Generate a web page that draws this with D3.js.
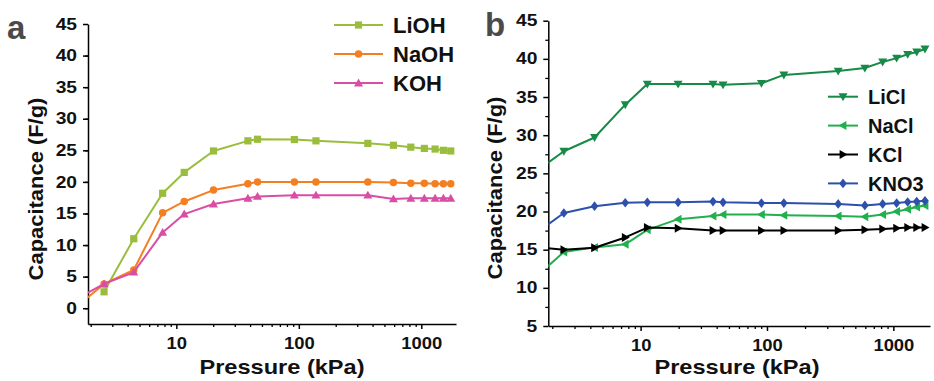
<!DOCTYPE html>
<html>
<head>
<meta charset="utf-8">
<script src="https://cdn.jsdelivr.net/npm/d3@7"></script>
<style>
  body { margin: 0; background: #fff; }
  text { font-family: "Liberation Sans", Arial, sans-serif; font-weight: bold; }
</style>
</head>
<body>
<div id="chart"></div>
<script>
// capacitance vs pressure, two panels (hydroxides / salts)

// panel a data, first column sits left of the axis and only feeds the line
var pressureA = [1.5, 2.57, 4.49, 7.73, 11.6, 20.1, 38.4, 46, 92, 138, 366, 592, 821, 1059, 1296, 1515, 1740]
var LiOH = [null, 2.6, 11.0, 18.2, 21.5, 24.9, 26.5, 26.75, 26.7, 26.5, 26.1, 25.8, 25.5, 25.3, 25.2, 25.0, 24.9]
var NaOH = [0.1, 3.85, 6.06, 15.1, 16.9, 18.7, 19.7, 20.0, 20.0, 20.0, 20.0, 19.9, 19.8, 19.8, 19.7, 19.7, 19.7]
var KOH = [1.4, 3.85, 5.7, 12.0, 14.9, 16.5, 17.4, 17.7, 17.9, 17.9, 17.9, 17.3, 17.4, 17.4, 17.4, 17.4, 17.4]

// panel b data
var pressureB = [1.5, 2.47, 4.32, 7.56, 11.3, 19.8, 37.4, 44.9, 90.4, 136, 366, 595, 823, 1062, 1298, 1530, 1780]
var LiCl = [25.3, 27.9, 29.7, 34.0, 36.7, 36.7, 36.7, 36.6, 36.8, 37.9, 38.4, 38.8, 39.6, 40.1, 40.6, 40.9, 41.3]
var NaCl = [11.5, 14.7, 15.3, 15.7, 17.6, 19.0, 19.4, 19.6, 19.6, 19.5, 19.4, 19.3, 19.6, 20.0, 20.3, 20.6, 20.8]
var KCl = [15.3, 15.0, 15.25, 16.6, 17.9, 17.8, 17.5, 17.5, 17.5, 17.5, 17.5, 17.6, 17.7, 17.8, 17.9, 17.9, 17.9]
var KNO3 = [17.2, 19.8, 20.7, 21.15, 21.2, 21.2, 21.3, 21.2, 21.1, 21.1, 21.0, 20.8, 21.0, 21.1, 21.25, 21.3, 21.4]

var xTicks = [10, 100, 1000]
var yTicksA = [0, 5, 10, 15, 20, 25, 30, 35, 40, 45]
var yTicksB = [5, 10, 15, 20, 25, 30, 35, 40, 45]

var width = 934
var height = 381

var svg = d3.select("#chart")
    .append("svg")
    .attr("width", width)
    .attr("height", height)

var panels = [
    {
        id: "a", letter: "a",
        left: 88, right: 456, top: 24, bottom: 324,
        xDomain: [1.9, 1920], yDomain: [-2.5, 45], yTicks: yTicksA,
        pressure: pressureA,
        series: [
            { name: "LiOH", values: LiOH, color: "#9bbd3d", shape: "square" },
            { name: "NaOH", values: NaOH, color: "#f47f20", shape: "circle" },
            { name: "KOH", values: KOH, color: "#d94ea5", shape: "tri-up" }
        ],
        legend: { x: 334, y: 25, step: 29, font: 22 },
        letterPos: [7, 39],
        xTitle: 282, yTitle: 189, yTitleX: 43
    },
    {
        id: "b", letter: "b",
        left: 548.3, right: 930, top: 20.7, bottom: 326,
        xDomain: [1.86, 1950], yDomain: [5, 45], yTicks: yTicksB,
        pressure: pressureB,
        series: [
            { name: "LiCl", values: LiCl, color: "#178a47", shape: "tri-down" },
            { name: "NaCl", values: NaCl, color: "#22b04f", shape: "tri-left" },
            { name: "KCl", values: KCl, color: "#000000", shape: "tri-right" },
            { name: "KNO3", values: KNO3, color: "#2d50ac", shape: "diamond" }
        ],
        legend: { x: 828, y: 96.7, step: 28.9, font: 20 },
        letterPos: [485, 36],
        xTitle: 737, yTitle: 188, yTitleX: 502
    }
]

// the original labels are a bit wider than Arial, stretch them
function stretch(sel, k) {
    sel.each(function () {
        var len = this.getComputedTextLength()
        d3.select(this).attr("textLength", len * k).attr("lengthAdjust", "spacingAndGlyphs")
    })
}

function symbolPath(shape) {
    var s = 3.8
    if (shape == "square") return d3.symbol(d3.symbolSquare, 52)()
    if (shape == "circle") return d3.symbol(d3.symbolCircle, 44)()
    if (shape == "diamond") return `M0,${-s - 1}L${s},0L0,${s + 1}L${-s},0Z`
    var t = 4.5
    if (shape == "tri-up") return `M0,${-t}L${t},${t * 0.75}L${-t},${t * 0.75}Z`
    if (shape == "tri-down") return `M0,${t}L${t},${-t * 0.75}L${-t},${-t * 0.75}Z`
    if (shape == "tri-left") return `M${-t},0L${t * 0.75},${t}L${t * 0.75},${-t}Z`
    if (shape == "tri-right") return `M${t},0L${-t * 0.75},${t}L${-t * 0.75},${-t}Z`
}

panels.forEach(function (p) {
    var x = d3.scaleLog().domain(p.xDomain).range([p.left, p.right])
    var y = d3.scaleLinear().domain(p.yDomain).range([p.bottom, p.top])

    var g = svg.append("g")

    // clip area for lines & markers
    g.append("clipPath")
        .attr("id", "clip-" + p.id)
        .append("rect")
        .attr("x", p.left)
        .attr("y", p.top - 8)
        .attr("width", p.right - p.left + 6)
        .attr("height", p.bottom - p.top + 8)

    // minor ticks on x (2..9 each decade)
    var minorX = []
    for (var dec = 1; dec <= 1000; dec *= 10) {
        for (var m = 1; m < 10; m++) {
            var v = dec * m
            if (v >= p.xDomain[0] && v <= p.xDomain[1] && xTicks.indexOf(v) < 0) minorX.push(v)
        }
    }
    var minorY = d3.range(p.yDomain[0] + 2.5, p.yDomain[1], 5)

    g.append("g")
        .attr("transform", `translate(0,${p.bottom})`)
        .call(d3.axisBottom(x).tickValues(minorX).tickSize(3).tickFormat(""))
        .call(g => g.select(".domain").remove())
        .selectAll("line").attr("stroke-width", 1.3)

    g.append("g")
        .attr("transform", `translate(${p.left},0)`)
        .call(d3.axisLeft(y).tickValues(minorY).tickSize(3).tickFormat(""))
        .call(g => g.select(".domain").remove())
        .selectAll("line").attr("stroke-width", 1.3)

    var xAxis = g.append("g")
        .attr("transform", `translate(0,${p.bottom})`)
        .call(d3.axisBottom(x).tickValues(xTicks).tickSize(5).tickPadding(9).tickFormat(d3.format("d")).tickSizeOuter(0))
    xAxis.select(".domain").attr("stroke-width", 1.5)
    xAxis.selectAll(".tick line").attr("stroke-width", 1.5)
    xAxis.selectAll("text").attr("font-size", 16).attr("fill", "#111").call(stretch, 1.15)

    var yAxis = g.append("g")
        .attr("transform", `translate(${p.left},0)`)
        .call(d3.axisLeft(y).tickValues(p.yTicks).tickSize(5).tickPadding(6).tickSizeOuter(0))
    yAxis.select(".domain").attr("stroke-width", 1.5)
    yAxis.selectAll(".tick line").attr("stroke-width", 1.5)
    yAxis.selectAll("text").attr("font-size", 16).attr("fill", "#111").call(stretch, 1.2)

    // axis titles
    g.append("text")
        .attr("x", p.xTitle)
        .attr("y", 374)
        .attr("text-anchor", "middle")
        .attr("font-size", 20.5)
        .attr("fill", "#111")
        .text("Pressure (kPa)")
        .call(stretch, 1.15)

    g.append("text")
        .attr("transform", `translate(${p.yTitleX},${p.yTitle}) rotate(-90)`)
        .attr("text-anchor", "middle")
        .attr("font-size", 20.5)
        .attr("fill", "#111")
        .text("Capacitance (F/g)")
        .call(stretch, 1.07)

    // panel letter
    g.append("text")
        .attr("x", p.letterPos[0])
        .attr("y", p.letterPos[1])
        .attr("font-size", 33)
        .attr("fill", "#4a4a4a")
        .text(p.letter)

    var line = d3.line()
        .defined(d => d[1] != null)
        .x(d => x(d[0]))
        .y(d => y(d[1]))

    var plot = g.append("g").attr("clip-path", `url(#clip-${p.id})`)

    p.series.forEach(function (s) {
        var pts = p.pressure.map((pr, i) => [pr, s.values[i]]).filter(d => d[1] != null)
        plot.append("path")
            .attr("fill", "none")
            .attr("stroke", s.color)
            .attr("stroke-width", 2)
            .attr("stroke-linejoin", "round")
            .attr("d", line(pts))
        plot.selectAll(null)
            .data(pts)
            .join("path")
            .attr("transform", d => `translate(${x(d[0])},${y(d[1])})`)
            .attr("d", symbolPath(s.shape))
            .attr("fill", s.color)
    })

    // legend
    var leg = g.append("g")
    p.series.forEach(function (s, i) {
        var ly = p.legend.y + i * p.legend.step
        var lw = p.id == "a" ? 49 : 30
        leg.append("line")
            .attr("x1", p.legend.x).attr("x2", p.legend.x + lw)
            .attr("y1", ly).attr("y2", ly)
            .attr("stroke", s.color).attr("stroke-width", 2)
        leg.append("path")
            .attr("transform", `translate(${p.legend.x + lw / 2},${ly})`)
            .attr("d", symbolPath(s.shape))
            .attr("fill", s.color)
        leg.append("text")
            .attr("x", p.legend.x + lw + 10)
            .attr("y", ly)
            .attr("dy", "0.36em")
            .attr("font-size", p.legend.font)
            .attr("fill", "#111")
            .text(s.name)
    })
})
</script>
</body>
</html>
